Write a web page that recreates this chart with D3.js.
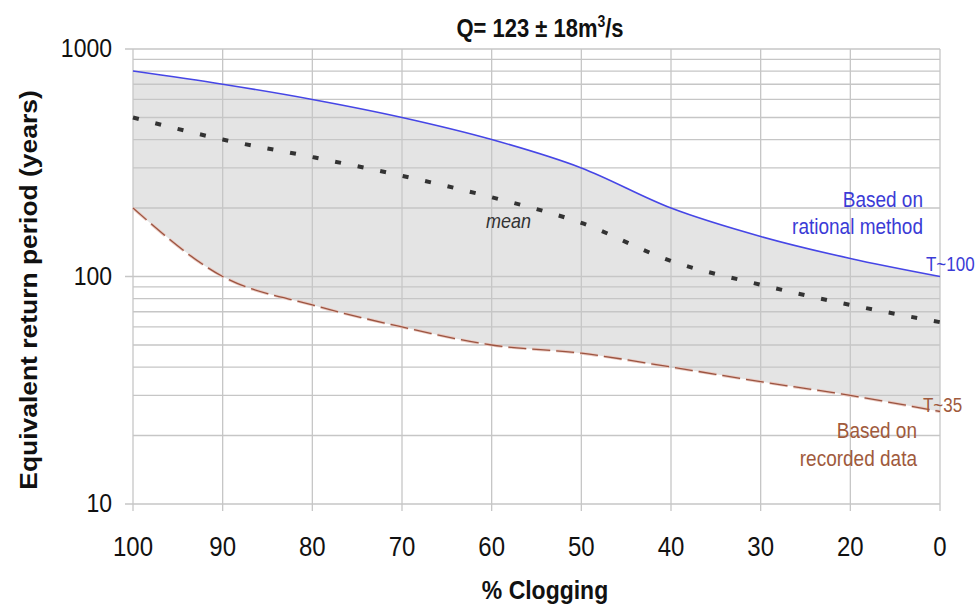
<!DOCTYPE html>
<html>
<head>
<meta charset="utf-8">
<script src="https://cdn.jsdelivr.net/npm/d3@7"></script>
<style>
  body { margin: 0; background: #fff; }
  text { font-family: Arial, "Liberation Sans", sans-serif; }
</style>
</head>
<body>
<svg id="chart" width="979" height="606"></svg>
<script>
// % clogging categories (equally spaced on the axis)
var clogging = ["100", "90", "80", "70", "60", "50", "40", "30", "20", "0"];
var rational = [800, 700, 600, 500, 400, 300, 200, 150, 120, 100];
var meanT    = [500, 400, 335, 277, 223, 172, 117, 92, 75, 63];
var recorded = [200, 100, 75, 60, 50, 46, 40, 34.5, 30, 25.5];
var yTicks = [10, 100, 1000];

var svg = d3.select("#chart"),
    plotLeft = 133, plotRight = 940, plotTop = 49, plotBottom = 504,
    stretch = 1.15; // the original picture's text is a bit taller than wide

var x = d3.scalePoint().domain(clogging).range([plotLeft, plotRight]);
var y = d3.scaleLog().domain([10, 1000]).range([plotBottom, plotTop]);

var data = clogging.map(function(c, i) {
  return { c: c, hi: rational[i], m: meanT[i], lo: recorded[i] };
});

function at(px, py, extra) {
  return "translate(" + px + "," + py + ")" + (extra || "") + " scale(1," + stretch + ")";
}

// minor + major horizontal grid
var grid = [];
[10, 100].forEach(function(d) { for (var k = 1; k <= 10; k++) grid.push(d * k); });
grid = Array.from(new Set(grid));

// shaded band between the two estimates
svg.append("path")
    .datum(data)
    .attr("fill", "#e4e4e4")
    .attr("d", d3.area()
        .x(function(d) { return x(d.c); })
        .y0(function(d) { return y(d.lo); })
        .y1(function(d) { return y(d.hi); })
        .curve(d3.curveMonotoneX));

svg.append("g").selectAll("line")
  .data(grid)
  .enter().append("line")
    .attr("x1", function(d) { return yTicks.indexOf(d) >= 0 ? plotLeft - 8 : plotLeft; })
    .attr("x2", plotRight)
    .attr("y1", y).attr("y2", y)
    .attr("stroke", "#c6c6c6")
    .attr("stroke-width", 1.3);

svg.append("g").selectAll("line")
  .data(clogging)
  .enter().append("line")
    .attr("x1", x).attr("x2", x)
    .attr("y1", plotTop).attr("y2", plotBottom + 7)
    .attr("stroke", "#c6c6c6")
    .attr("stroke-width", 1.3);

// tick labels
svg.append("g").selectAll("text")
  .data(yTicks)
  .enter().append("text")
    .attr("transform", function(d) { return at(112, y(d) + 8); })
    .attr("text-anchor", "end")
    .attr("font-size", 23)
    .attr("fill", "#111")
    .text(function(d) { return d; });

svg.append("g").selectAll("text")
  .data(clogging)
  .enter().append("text")
    .attr("transform", function(d) { return at(x(d), 556); })
    .attr("text-anchor", "middle")
    .attr("font-size", 24)
    .attr("fill", "#111")
    .text(function(d) { return d; });

// series
svg.append("path")
    .datum(data)
    .attr("fill", "none")
    .attr("stroke", "#4646e6")
    .attr("stroke-width", 1.6)
    .attr("d", d3.line()
        .x(function(d) { return x(d.c); })
        .y(function(d) { return y(d.hi); })
        .curve(d3.curveMonotoneX));

svg.append("path")
    .datum(data)
    .attr("fill", "none")
    .attr("stroke", "#e8c8c0")
    .attr("stroke-width", 3)
    .attr("stroke-dasharray", "18,6")
    .attr("d", d3.line()
        .x(function(d) { return x(d.c); })
        .y(function(d) { return y(d.lo); })
        .curve(d3.curveMonotoneX));

svg.append("path")
    .datum(data)
    .attr("fill", "none")
    .attr("stroke", "#9c5440")
    .attr("stroke-width", 1.3)
    .attr("stroke-dasharray", "18,6")
    .attr("d", d3.line()
        .x(function(d) { return x(d.c); })
        .y(function(d) { return y(d.lo); })
        .curve(d3.curveMonotoneX));

svg.append("path")
    .datum(data)
    .attr("fill", "none")
    .attr("stroke", "#333")
    .attr("stroke-width", 4)
    .attr("stroke-dasharray", "6,17")
    .attr("d", d3.line()
        .x(function(d) { return x(d.c); })
        .y(function(d) { return y(d.m); })
        .curve(d3.curveMonotoneX));

// annotations
svg.append("text").attr("transform", at(540, 37)).attr("text-anchor", "middle")
    .attr("font-size", 22).attr("font-weight", "bold").attr("fill", "#111")
    .html("Q= 123 ± 18m<tspan dy='-9' font-size='14'>3</tspan><tspan dy='9'>/s</tspan>");

svg.append("text").attr("transform", "translate(37,290) rotate(-90) scale(" + stretch + ",1)")
    .attr("text-anchor", "middle").attr("font-size", 23).attr("font-weight", "bold")
    .attr("fill", "#111").text("Equivalent return period (years)");

svg.append("text").attr("transform", at(545, 599)).attr("text-anchor", "middle")
    .attr("font-size", 23).attr("font-weight", "bold").attr("fill", "#111")
    .text("% Clogging");

var blue = svg.append("g").attr("fill", "#3b3bd6").attr("font-size", 19).attr("text-anchor", "end");
blue.append("text").attr("transform", at(923, 207)).text("Based on");
blue.append("text").attr("transform", at(923, 234)).text("rational method");
svg.append("text").attr("transform", at(926, 271)).attr("font-size", 17)
    .attr("fill", "#3b3bd6").text("T~100");

var brown = svg.append("g").attr("fill", "#a05a3c").attr("font-size", 19).attr("text-anchor", "end");
brown.append("text").attr("transform", at(917, 438)).text("Based on");
brown.append("text").attr("transform", at(917, 466)).text("recorded data");
svg.append("text").attr("transform", at(923, 412)).attr("font-size", 17)
    .attr("fill", "#a05a3c").text("T~35");

svg.append("text").attr("transform", at(486, 228)).attr("font-size", 18)
    .attr("font-style", "italic").attr("fill", "#333").text("mean");
</script>
</body>
</html>
